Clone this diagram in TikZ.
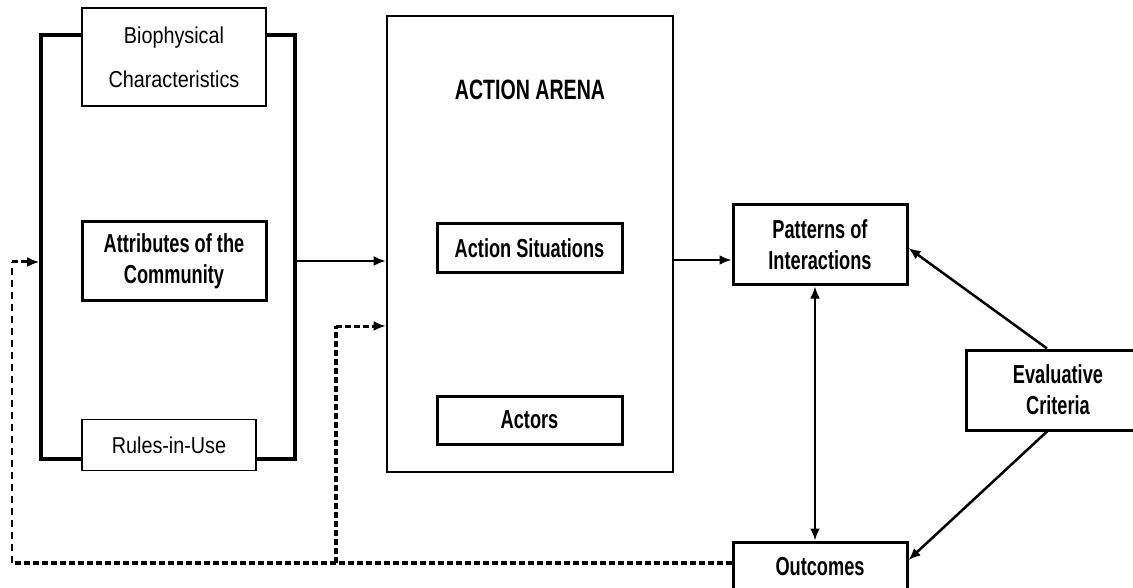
\documentclass[tikz,border=0pt]{standalone}
\usepackage{fontspec}
\setmainfont{Liberation Sans}
\newfontfamily\regnarrow[FakeStretch=0.86]{Liberation Sans}
\newfontfamily\boldnarrow[FakeStretch=0.7]{Liberation Sans}
\usetikzlibrary{arrows.meta,calc}
\tikzset{
  thinbox/.style={draw, line width=1.6pt, fill=white, inner sep=0pt, align=center,
    font=\regnarrow\fontsize{23}{44}\selectfont},
  boldbox/.style={draw, line width=3pt, fill=white, inner sep=0pt, align=center,
    font=\boldnarrow\bfseries\fontsize{26}{31}\selectfont},
  frame/.style={draw, line width=3.6pt, inner sep=0pt},
  arena/.style={draw, line width=2.6pt, inner sep=0pt},
  conn/.style={line width=2.5pt, -{Latex[length=12pt,width=10pt]}},
  dconn/.style={line width=2.8pt, {Latex[length=12pt,width=10pt]}-{Latex[length=12pt,width=10pt]}},
  dashconn/.style={line width=3pt, dash pattern=on 6pt off 3pt, -{Latex[length=12pt,width=10pt]}},
  dashthin/.style={line width=2.4pt, dash pattern=on 7pt off 5pt},
  dashthick/.style={line width=3.2pt, dash pattern=on 6pt off 3pt},
  lbl/.style={inner sep=0pt, font=\boldnarrow\bfseries\fontsize{28}{31}\selectfont}
}
\begin{document}
\begin{tikzpicture}[x=1pt,y=-1pt]
\clip (0,0) rectangle (1133,588);
\fill[white] (0,0) rectangle (1133,588);
% left frame
\node[frame, minimum width=254pt, minimum height=424pt] (ctx) at (168,247) {};
\node[thinbox, minimum width=184pt, minimum height=98pt] (bio) at (174,57) {Biophysical\\Characteristics};
\node[boldbox, minimum width=184pt, minimum height=78pt] (attr) at (174,261) {Attributes of the\\Community};
\node[thinbox, minimum width=174pt, minimum height=51pt] (rules) at (169,445) {Rules-in-Use};
% action arena
\node[arena, minimum width=286pt, minimum height=456pt] (arena) at (530,244) {};
\node[lbl] (arenalbl) at (530,90) {ACTION ARENA};
\node[boldbox, minimum width=185pt, minimum height=49pt] (sit) at (529.5,248.5) {Action Situations};
\node[boldbox, minimum width=185pt, minimum height=48pt] (act) at (529.5,420) {Actors};
% right side
\node[boldbox, minimum width=174pt, minimum height=80pt] (pat) at (820,245) {Patterns of\\Interactions};
\node[boldbox, minimum width=174pt, minimum height=50pt] (out) at (820,567) {Outcomes};
\node[boldbox, minimum width=184pt, minimum height=80pt] (eval) at (1058,390) {Evaluative\\Criteria};
% connectors
\draw[conn] (ctx.east |- 0,261) -- (arena.west |- 0,261);
\draw[conn] (arena.east |- 0,260) -- (pat.west |- 0,260);
\draw[dconn] (pat.south -| 815,0) -- (out.north -| 815,0);
\draw[conn] ([xshift=-11pt]eval.north) -- (pat.east |- 0,248);
\draw[conn] ([xshift=-11pt]eval.south) -- (out.east |- 0,560);
% dashed feedback
\coordinate (dl) at (12,563);
\coordinate (dm) at (336,563);
\draw[dashthick] ([yshift=4pt]out.west) -- (dl);
\draw[dashthin] (dl) -- (12,262);
\draw[dashconn] (12,262) -- (ctx.west |- 0,262);
\draw[dashthick] (dm) -- (336,326);
\draw[dashconn] (336,326) -- (arena.west |- 0,326);
\end{tikzpicture}
\end{document}
